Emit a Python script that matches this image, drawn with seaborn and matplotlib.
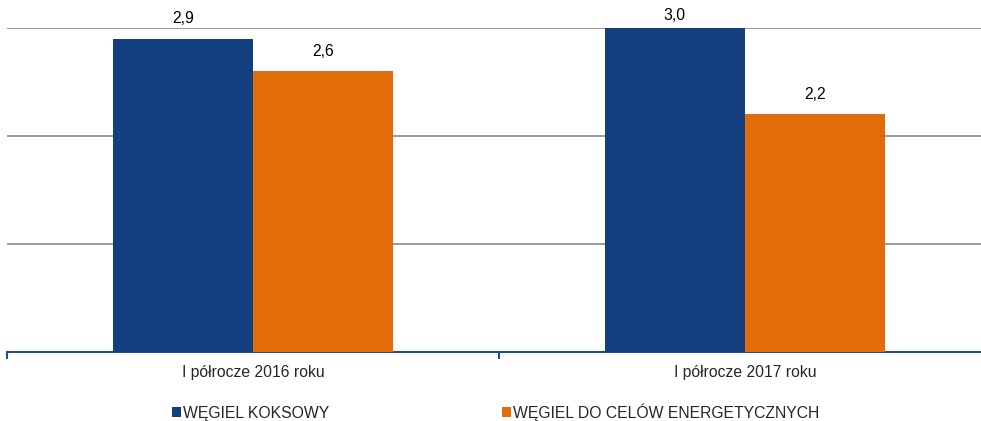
import pandas as pd
import matplotlib.pyplot as plt
import seaborn as sns

# data
categories = ['I półrocze 2016 roku', 'I półrocze 2017 roku']
series = ['WĘGIEL KOKSOWY', 'WĘGIEL DO CELÓW ENERGETYCZNYCH']
koksowy = [2.9, 3.0]
energetyczny = [2.6, 2.2]
colors = ['#133F7E', '#E36C0A']

df = pd.DataFrame({
    'okres': categories * 2,
    'seria': [series[0]] * 2 + [series[1]] * 2,
    'wartosc': koksowy + energetyczny,
})

sns.set_style('white')
plt.rcParams['font.family'] = ['Liberation Sans', 'DejaVu Sans']
fs = 11.3

fig = plt.figure(figsize=(9.81, 4.21), dpi=100)
ax = fig.add_axes([7 / 981, 1 - 352 / 421, 984 / 981, 324 / 421])

sns.barplot(data=df, x='okres', y='wartosc', hue='seria', palette=colors,
            width=0.57, gap=0, saturation=1, linewidth=0, ax=ax, zorder=3)

ymax = 3
for c in ax.containers:
    anns = ax.bar_label(c, labels=[f'{v:.1f}'.replace('.', ',') for v in c.datavalues],
                        padding=9, fontsize=fs, color='#000000')
    # labels that would leave the plot area get pushed down (as in Excel)
    for a, v in zip(anns, c.datavalues):
        if v >= ymax:
            a.xyann = (0, 3.5)

ax.set_ylim(0, ymax)
ax.set_xlim(-0.5, 1.5)
ax.set_yticks([1, 2, 3])
ax.tick_params(axis='y', left=False, labelleft=False)
ax.grid(axis='y', color='#8A8A8A', linewidth=1.2, zorder=0)
ax.set_axisbelow(True)

# category boundary ticks
ax.set_xticks([-0.5, 0.5, 1.5], minor=True)
ax.tick_params(axis='x', which='minor', bottom=True, length=5, width=1.5,
               color='#1F4E8C', direction='out')
ax.tick_params(axis='x', which='major', length=0, labelsize=fs, pad=9)

for s in ['top', 'right', 'left']:
    ax.spines[s].set_visible(False)
ax.spines['bottom'].set_color('#1F4E8C')
ax.spines['bottom'].set_linewidth(1.5)
ax.set_xlabel('')
ax.set_ylabel('')

handles, labels = ax.get_legend_handles_labels()
ax.legend(handles, labels, loc='center left', bbox_to_anchor=(172 / 981, 1 - 412 / 421),
          bbox_transform=fig.transFigure, ncol=2, frameon=False, fontsize=fs,
          handlelength=0.55, handleheight=0.55, handletextpad=0.15,
          columnspacing=11.0, borderpad=0, borderaxespad=0)

fig.savefig('out.png', dpi=100)
